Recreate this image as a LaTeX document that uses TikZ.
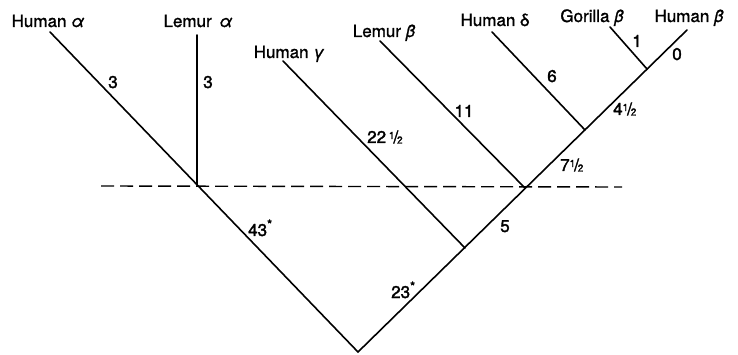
\documentclass[tikz,border=0pt]{standalone}
\usepackage{fontspec}
\setmainfont{TeX Gyre Heros}
\newfontfamily\lett{TeX Gyre Heros}[FakeBold=1.2]
\newfontfamily\lettn{TeX Gyre Heros}[FakeBold=2]
\newcommand\hlf{\raisebox{4pt}{\fontsize{10}{10}\selectfont 1}\kern-1pt/\kern-1.2pt\raisebox{-0.5pt}{\fontsize{10}{10}\selectfont 2}}
\newcommand\mystar{\raisebox{7pt}{\fontsize{13}{13}\selectfont *}}
\begin{document}
\begin{tikzpicture}[x=1pt,y=-1pt,
  branch/.style={line width=1.6pt, line cap=round},
  levelline/.style={line width=1.4pt, dash pattern=on 13pt off 6pt},
  taxon/.style={font=\lett\fontsize{17}{17}\selectfont, inner sep=0pt, anchor=base},
  num/.style={font=\lettn\fontsize{17}{17}\selectfont, inner sep=0pt, anchor=base}]
\useasboundingbox (0,0) rectangle (738,355);
% junctions and branch tips
\coordinate (root) at (358,352);
\coordinate (jA) at (197,185);
\coordinate (jG) at (465,248);
\coordinate (jLb) at (525,188);
\coordinate (jHd) at (585,130);
\coordinate (jGb) at (647,69);
\coordinate (tHa) at (50,32);
\coordinate (tLa) at (197,35);
\coordinate (tHg) at (283,61);
\coordinate (tLb) at (380,41);
\coordinate (tHd) at (492,32);
\coordinate (tGb) at (610,27);
\coordinate (tHb) at (687,30);
\coordinate (dL) at (101,186);
\coordinate (dR) at (622,187);
% taxa
\node[taxon] (Ha) at (48,27) {Human \textit{α}};
\node[taxon] (La) at (198,27) {Lemur\, \textit{α}};
\node[taxon] (Hg) at (289,58) {Human \textit{γ}};
\node[taxon] (Lb) at (384,37) {Lemur \textit{β}};
\node[taxon] (Hd) at (495,26) {Human δ};
\node[taxon] (Gb) at (592,22) {Gorilla \textit{β}};
\node[taxon] (Hb) at (689,22) {Human \textit{β}};
% tree
\draw[branch] (tHa) -- (root) -- (tHb);
\draw[branch] (jA) -- (tLa);
\draw[branch] (jG) -- (tHg);
\draw[branch] (jLb) -- (tLb);
\draw[branch] (jHd) -- (tHd);
\draw[branch] (jGb) -- (tGb);
\draw[levelline] (dL) -- (dR);
% branch lengths
\node[num] (n1) at (113,88) {3};
\node[num] (n2) at (208,88) {3};
\node[num, anchor=base west] (n3) at (367,143) {22\,\hlf};
\node[num] (n4) at (464,117) {11};
\node[num] (n5) at (552,82) {6};
\node[num] (n6) at (637,47) {1};
\node[num] (n7) at (677,60) {0};
\node[num, anchor=base west] (n8) at (613,115) {4\hlf};
\node[num, anchor=base west] (n9) at (560,171) {7\hlf};
\node[num] (n10) at (505,232) {5};
\node[num, anchor=base west] (n11) at (248,236) {43\mystar};
\node[num, anchor=base west] (n12) at (391,298) {23\mystar};
\end{tikzpicture}
\end{document}
